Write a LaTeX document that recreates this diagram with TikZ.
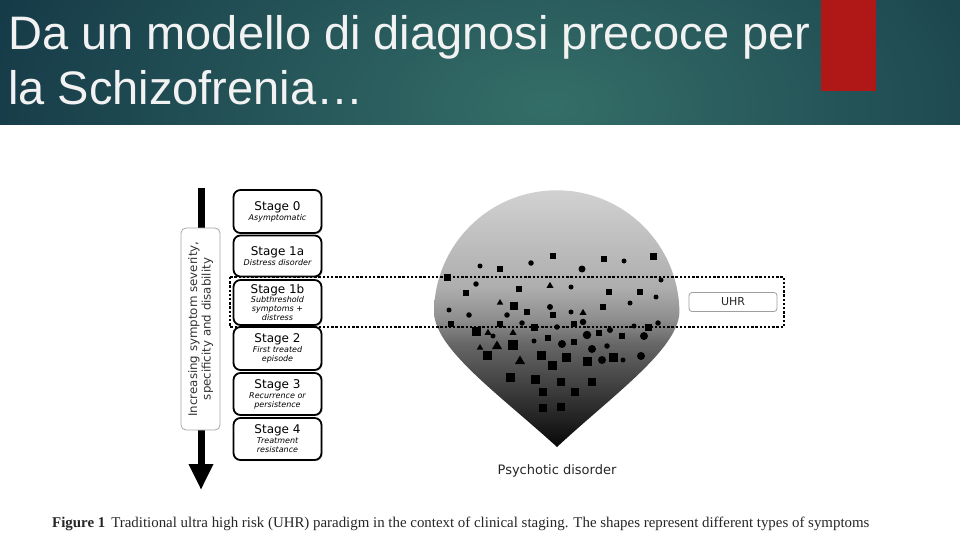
\documentclass[tikz,border=0pt]{standalone}
\usepackage{fontspec}
\newfontfamily\titlefont{Liberation Sans}
\newfontfamily\djv{DejaVu Sans}
\newfontfamily\capfont{Liberation Serif}
\usetikzlibrary{arrows.meta,shadows}
\definecolor{teallight}{RGB}{52,110,104}
\definecolor{tealdark}{RGB}{18,52,68}
\definecolor{redbar}{RGB}{176,24,24}
\definecolor{titletext}{RGB}{242,242,242}
\definecolor{dA}{gray}{0.03}
\definecolor{dB}{gray}{0.18}
\definecolor{dC}{gray}{0.40}
\definecolor{dD}{gray}{0.56}
\definecolor{dE}{gray}{0.68}
\definecolor{dF}{gray}{0.82}
\pgfdeclareverticalshading{dropshade}{100bp}{color(0bp)=(dA); color(25bp)=(dA); color(33bp)=(dB); color(45bp)=(dC); color(50bp)=(dD); color(56bp)=(dE); color(75bp)=(dF); color(100bp)=(dF)}
\tikzset{
  stagebox/.style={draw=black, line width=1.8pt, rounded corners=7pt, fill=white,
    minimum width=88pt, inner sep=0pt, align=center, font=\djv\fontsize{8}{9}\selectfont,
    drop shadow={shadow xshift=1.2pt, shadow yshift=-1.2pt, opacity=0.35}},
  ttl/.style={font=\titlefont\fontsize{47}{47}\selectfont, text=titletext, anchor=base west, inner sep=0pt},
  shp/.style={fill=black}
}
\newcommand{\stt}[1]{{\fontsize{12}{12}\selectfont #1}}
\newcommand{\sbt}[1]{{\itshape #1}}
\begin{document}
\begin{tikzpicture}[x=1pt,y=-1pt]
\useasboundingbox (0,0) rectangle (960,540);
\fill[white] (0,0) rectangle (960,540);
% title band
\begin{scope}
\clip (0,0) rectangle (960,125);
\fill[tealdark] (0,0) rectangle (960,125);
\shade[inner color=teallight, outer color=tealdark] (-100,-250) rectangle (1200,460);
\end{scope}
\fill[redbar] (821,0) rectangle (876,91);
\node[ttl] (t1) at (8,50) {Da un modello di diagnosi precoce per};
\node[ttl] (t2) at (8,105) {la Schizofrenia…};

% vertical arrow
\coordinate (atop) at (201,188);
\coordinate (abot) at (201,490);
\draw[line width=7pt, -{Triangle[width=23pt,length=26pt]}] (atop) -- (abot);
\node[draw=gray!70, line width=0.8pt, fill=white, rounded corners=5pt, rotate=90,
  minimum width=202pt, minimum height=39pt, inner sep=0pt, align=center,
  font=\djv\fontsize{11.8}{13.5}\selectfont, text=black!80] (lab) at (200.5,329)
  {Increasing symptom severity,\\specificity and disability};

% stage boxes
\node[stagebox, minimum height=43pt] (s0) at (277.5,211.5) {\stt{Stage 0}\\[1pt]\sbt{Asymptomatic}};
\node[stagebox, minimum height=41pt] (s1a) at (277.5,256) {\stt{Stage 1a}\\[1pt]\sbt{Distress disorder}};
\node[stagebox, minimum height=45pt] (s1b) at (277.5,302.5) {\stt{Stage 1b}\\[0pt]\sbt{Subthreshold}\\\sbt{symptoms +}\\\sbt{distress}};
\node[stagebox, minimum height=43pt] (s2) at (277.5,348.5) {\stt{Stage 2}\\[1pt]\sbt{First treated}\\\sbt{episode}};
\node[stagebox, minimum height=42pt] (s3) at (277.5,394) {\stt{Stage 3}\\[1pt]\sbt{Recurrence or}\\\sbt{persistence}};
\node[stagebox, minimum height=42pt] (s4) at (277.5,439) {\stt{Stage 4}\\[1pt]\sbt{Treatment}\\\sbt{resistance}};

% drop
\shade[shading=dropshade] (434,313) arc[start angle=180, end angle=360, radius=122.7]
  .. controls (677,350) and (613,395) .. (557,447)
  .. controls (500,395) and (436,350) .. (434,313) -- cycle;

% squares
\foreach \x/\y/\s in {553/256/6.5,604/259/6.5,653/256/7,500/269/6.5,447/277/7,519/289/6.5,466/293/6.5,609/292/6.5,640/292/6.5,514/306/8,527/312/6.5,553/315/6.5,603/307/6.5,451/324/6.5,500/324/6.5,534/327/7,574/324/6.5,648/327/7,599/333/6.5,622/336/6.5,548/338/6.5,574/342/6.5,
476/331/9,513/345/9.5,487/355/9,541/355/9,566/357/9,587/361/9,613/357/9,552/365/9,510/377/9,535/379/9,561/382/8.5,592/382/8.5,543/392/8.5,575/392/8.5,543/408/8.5,561/407/8.5}
  \fill[shp] (\x-\s/2,\y-\s/2) rectangle ++(\s,\s);
% circles
\foreach \x/\y/\d in {480/266/5,531/263/5.5,624/261/5,661/280/5,476/284/5.5,571/287/5,656/297/5,630/303/5,449/310/5,469/315/5.5,507/315/5.5,571/312/5,522/323/5.5,557/327/5.5,658/323/5.5,634/326/5,493/336/5,534/341/5,607/346/5.5,623/360/5,
550/307/6,583/322/6.5,610/330/6,582/269/7,587/335/8.5,644/336/8,562/344/8,592/349/8,602/360/8,641/356/8}
  \fill[shp] (\x,\y) circle[radius=\d/2];
% triangles
\foreach \x/\y/\s in {550/285/7,500/302/6.5,583/312/7,488/332/7,513/332/7,480/347/6.5,497/345/10,520/360/10}
  \fill[shp] (\x-\s/2,\y+\s*0.4) -- (\x+\s/2,\y+\s*0.4) -- (\x,\y-\s*0.45) -- cycle;

% UHR band
\draw[line width=2.4pt, dash pattern=on 2.4pt off 1.8pt] (230,277) rectangle (784,327);
\node[draw=gray!75, line width=0.8pt, rounded corners=3pt, minimum width=88pt, minimum height=19pt,
  inner sep=0pt, font=\djv\fontsize{11}{11}\selectfont, text=black!85] (uhr) at (733,302) {UHR};

\node[font=\djv\fontsize{13}{13}\selectfont, text=black!85, anchor=base] (psy) at (557,474) {Psychotic disorder};

% caption
\node[anchor=base west, inner sep=0pt, font=\capfont\fontsize{14.9}{15}\selectfont, text=black!85] (cap) at (52,527)
  {\textbf{Figure 1}\hspace{6pt}Traditional ultra high risk (UHR) paradigm in the context of clinical staging. The shapes represent different types of symptoms};
\end{tikzpicture}
\end{document}
